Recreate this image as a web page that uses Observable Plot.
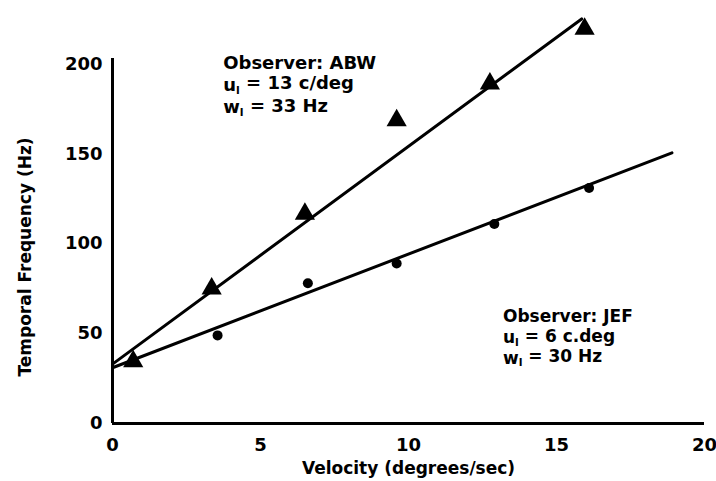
<!DOCTYPE html>
<html>
<head>
<meta charset="utf-8">
<script src="https://cdn.jsdelivr.net/npm/d3@7"></script>
<script src="https://cdn.jsdelivr.net/npm/@observablehq/plot@0.6"></script>
<style>
  html, body { margin: 0; padding: 0; background: #fff; }
</style>
</head>
<body>
<div id="chart"></div>
<script>
// ABW observer (triangles)
const abwVelocity = [0.7, 3.35, 6.5, 9.6, 12.75, 15.95];
const abwFreq = [34.5, 75, 116.5, 168.5, 189, 219.5];
// JEF observer (circles)
const jefVelocity = [3.55, 6.6, 9.6, 12.9, 16.1];
const jefFreq = [49, 78, 89, 111, 131];
// Fitted lines (endpoints)
const abwFitVelocity = [0, 15.85];
const abwFitFreq = [33, 225];
const jefFitVelocity = [0, 18.9];
const jefFitFreq = [31, 150.5];
// Ticks
const xTicks = [0, 5, 10, 15, 20];
const yTicks = [0, 50, 100, 150, 200];
// Annotations
const abwNote = ["Observer: ABW", "u_l = 13 c/deg", "w_l = 33 Hz"];
const jefNote = ["Observer: JEF", "u_l = 6 c.deg", "w_l = 30 Hz"];
const abwNoteX = 3.74, abwNoteY = [200.2, 188.2, 175.7];
const jefNoteX = 13.19, jefNoteY = [59.5, 47.8, 36.3];

const abw = abwVelocity.map((v, i) => ({v, f: abwFreq[i]}));
const jef = jefVelocity.map((v, i) => ({v, f: jefFreq[i]}));
const abwFit = abwFitVelocity.map((v, i) => ({v, f: abwFitFreq[i]}));
const jefFit = jefFitVelocity.map((v, i) => ({v, f: jefFitFreq[i]}));
const abwText = abwNote.map((t, i) => ({t, v: abwNoteX, f: abwNoteY[i]}));
const jefText = jefNote.map((t, i) => ({t, v: jefNoteX, f: jefNoteY[i]}));

const chart = Plot.plot({
  width: 716,
  height: 481,
  marginLeft: 112,
  marginRight: 12,
  marginTop: 58,
  marginBottom: 58,
  style: {fontFamily: "DejaVu Sans", fontWeight: "bold", fontSize: "18px", color: "black", background: "white"},
  x: {domain: [0, 20]},
  y: {domain: [0, 203]},
  marks: [
    Plot.axisX({ticks: xTicks, tickSize: 0, tickPadding: 15, label: null, fontSize: 18}),
    Plot.axisY({ticks: yTicks, tickSize: 0, tickPadding: 10, label: null, fontSize: 18}),
    Plot.ruleX([0], {stroke: "black", strokeWidth: 3}),
    Plot.ruleY([0], {stroke: "black", strokeWidth: 3}),
    Plot.line(abwFit, {x: "v", y: "f", stroke: "black", strokeWidth: 3}),
    Plot.line(jefFit, {x: "v", y: "f", stroke: "black", strokeWidth: 3}),
    Plot.dot(abw, {x: "v", y: "f", symbol: "triangle", r: 7.5, fill: "black", stroke: "none"}),
    Plot.dot(jef, {x: "v", y: "f", r: 5, fill: "black", stroke: "none"}),
    Plot.text(abwText, {x: "v", y: "f", text: "t", textAnchor: "start", lineAnchor: "middle", fontSize: 18, fontWeight: "bold", fill: "black"}),
    Plot.text(jefText, {x: "v", y: "f", text: "t", textAnchor: "start", lineAnchor: "middle", fontSize: 17, fontWeight: "bold", fill: "black"}),
    Plot.text(["Temporal Frequency (Hz)"], {frameAnchor: "left", textAnchor: "middle", rotate: -90, dx: -87, dy: 16, fontSize: 17, fontWeight: "bold", fill: "black", lineAnchor: "middle"}),
    Plot.text(["Velocity (degrees/sec)"], {frameAnchor: "bottom", textAnchor: "middle", dy: 45, fontSize: 17, fontWeight: "bold", fill: "black", lineAnchor: "middle"})
  ]
});

// Render "_l" as a subscript l
chart.querySelectorAll("text").forEach(node => {
  const s = node.textContent;
  if (s.includes("_l") && node.children.length === 0) {
    const [pre, post] = s.split("_l");
    node.textContent = "";
    const ns = "http://www.w3.org/2000/svg";
    const a = document.createElementNS(ns, "tspan"); a.textContent = pre;
    const b = document.createElementNS(ns, "tspan"); b.textContent = "l";
    b.setAttribute("dy", "0.25em"); b.setAttribute("font-size", "11");
    const c = document.createElementNS(ns, "tspan"); c.textContent = post;
    c.setAttribute("dy", "-0.25em");
    node.append(a, b, c);
  }
});

document.getElementById("chart").appendChild(chart);
</script>
</body>
</html>
